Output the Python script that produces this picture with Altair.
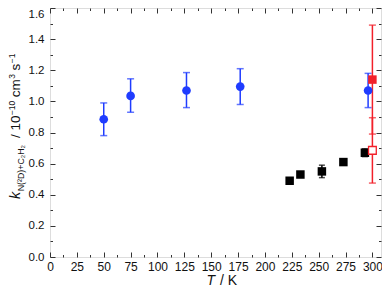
import altair as alt
import pandas as pd

# ---- data ----
blue_T = [50, 75, 127, 177, 296]
blue_k = [0.885, 1.035, 1.07, 1.095, 1.07]
blue_lo = [0.78, 0.93, 0.96, 0.98, 0.96]
blue_hi = [0.99, 1.145, 1.185, 1.21, 1.18]

black_T = [223, 233, 253, 273, 293]
black_k = [0.49, 0.53, 0.55, 0.61, 0.67]
black_lo = [0.48, 0.515, 0.51, 0.60, 0.645]
black_hi = [0.50, 0.545, 0.59, 0.62, 0.695]

red_T = [300, 300]
red_k = [1.14, 0.685]
red_lo = [0.79, 0.475]
red_hi = [1.49, 0.895]
red_filled = [True, False]

x_ticks = [i * 12.5 for i in range(0, 25)]
y_ticks = [round(i * 0.1, 1) for i in range(0, 17)]

BLUE = "#1f3cff"
RED = "#f2202a"
BLACK = "#000000"
FRAME = "#333333"
FONT = "Liberation Sans"

PADL = 42
W, H = 331, 249
XDOM = [0, 308]
YDOM = [0, 1.6]

blue = pd.DataFrame({"T": blue_T, "k": blue_k, "lo": blue_lo, "hi": blue_hi})
black = pd.DataFrame({"T": black_T, "k": black_k, "lo": black_lo, "hi": black_hi})
red = pd.DataFrame({"T": red_T, "k": red_k, "lo": red_lo, "hi": red_hi, "filled": red_filled})

xs = alt.Scale(domain=XDOM, nice=False, zero=False)
ys = alt.Scale(domain=YDOM, nice=False)

x_major = "round(datum.value*2) % 2 === 0"
y_major = "round(datum.value*10) % 2 === 0"


def xaxis(orient, labels):
    return alt.Axis(
        orient=orient, values=x_ticks, title=None, domain=False, ticks=False,
        labels=labels, labelExpr=f"{x_major} ? datum.label : ''", format="d",
        labelOverlap=False, labelFlush=False, labelFont=FONT, labelFontSize=12,
        labelColor="#111111", labelPadding=4,
        grid=True, gridColor=FRAME, gridWidth=1, gridOpacity=1,
        gridDash={"condition": {"test": x_major, "value": [5, 2000]}, "value": [2.5, 2000]},
    )


def yaxis(orient, labels):
    return alt.Axis(
        orient=orient, values=y_ticks, title=None, domain=False, ticks=False,
        labels=labels, labelExpr=f"{y_major} ? datum.label : ''", format=".1f",
        labelOverlap=False, labelFlush=False, labelFont=FONT, labelFontSize=11.5,
        labelColor="#111111", labelPadding=6,
        labelBaseline={"condition": {"test": "datum.value > 1.55", "value": "top"}, "value": "middle"},
        grid=True, gridColor=FRAME, gridWidth=1, gridOpacity=1,
        gridDash={"condition": {"test": y_major, "value": [5, 2000]}, "value": [2.5, 2000]},
    )


axes_main = alt.Chart(blue).mark_point(opacity=0).encode(
    x=alt.X("T:Q", scale=xs, axis=xaxis("bottom", True)),
    y=alt.Y("k:Q", scale=ys, axis=yaxis("left", True)),
)
axes_mirror = alt.Chart(blue).mark_point(opacity=0).encode(
    x=alt.X("T:Q", scale=xs, axis=xaxis("top", False)),
    y=alt.Y("k:Q", scale=ys, axis=yaxis("right", False)),
)


def errbars(df, color, cap):
    rule = alt.Chart(df).mark_rule(color=color, strokeWidth=1.5).encode(
        x=alt.X("T:Q", scale=xs, axis=None),
        y=alt.Y("lo:Q", scale=ys, axis=None),
        y2="hi:Q",
    )
    lo = alt.Chart(df).mark_tick(color=color, orient="horizontal", size=cap, thickness=1.5).encode(
        x=alt.X("T:Q", scale=xs, axis=None),
        y=alt.Y("lo:Q", scale=ys, axis=None),
    )
    hi = alt.Chart(df).mark_tick(color=color, orient="horizontal", size=cap, thickness=1.5).encode(
        x=alt.X("T:Q", scale=xs, axis=None),
        y=alt.Y("hi:Q", scale=ys, axis=None),
    )
    return [rule, lo, hi]


blue_pts = alt.Chart(blue).mark_point(shape="circle", filled=True, color=BLUE, size=75, opacity=1).encode(
    x=alt.X("T:Q", scale=xs, axis=None), y=alt.Y("k:Q", scale=ys, axis=None))
black_pts = alt.Chart(black).mark_point(shape="square", filled=True, color=BLACK, size=72, opacity=1).encode(
    x=alt.X("T:Q", scale=xs, axis=None), y=alt.Y("k:Q", scale=ys, axis=None))
red_fill = alt.Chart(red).transform_filter("datum.filled").mark_point(
    shape="square", filled=True, color=RED, size=72, opacity=1).encode(
    x=alt.X("T:Q", scale=xs, axis=None), y=alt.Y("k:Q", scale=ys, axis=None))
red_open = alt.Chart(red).transform_filter("!datum.filled").mark_point(
    shape="square", filled=True, fill="white", stroke=RED, strokeWidth=1.3, size=60, opacity=1).encode(
    x=alt.X("T:Q", scale=xs, axis=None), y=alt.Y("k:Q", scale=ys, axis=None))

# ---- axis titles built from text pieces ----
NB = "\u00a0"
EM = {'k': 0.5, 'N': 0.722, '(': 0.333, ')': 0.333, 'D': 0.722, '+': 0.584, 'C': 0.722,
      'H': 0.722, '²': 0.333, '₂': 0.556, '/': 0.278, NB: 0.278, '1': 0.556, '0': 0.556,
      'c': 0.5, 'm': 0.833, 's': 0.5, '−': 0.584, '3': 0.556}

# (text, font size, kind, italic, gap before in px)
ytitle_pieces = [
    ("k", 14.5, "main", True, 0),
    ("N(²D)+C₂H₂", 8.8, "sub", False, 0.5),
    ("/" + NB + "10", 13.5, "main", False, 4),
    ("−10", 8.5, "sup", False, 0.5),
    ("cm", 13.5, "main", False, 3.5),
    ("3", 8.5, "sup", False, 0.5),
    ("s", 13.5, "main", False, 3.5),
    ("−1", 8.5, "sup", False, 0.5),
]
base_x = {"main": -30, "sub": -26, "sup": -35.2}


def text_layer(txt, x, y, size, angle=0, italic=False, align="left"):
    return alt.Chart(alt.Data(values=[{}])).mark_text(
        text=txt, font=FONT, fontSize=size, angle=angle, align=align,
        baseline="alphabetic", fontStyle="italic" if italic else "normal", color="#111111",
    ).encode(x=alt.value(x), y=alt.value(y))


title_layers = []
ypos = 191.0
for txt, size, kind, italic, gap in ytitle_pieces:
    ypos -= gap
    title_layers.append(text_layer(txt, base_x[kind], ypos, size, angle=270, italic=italic))
    ypos -= sum(EM.get(c, 0.556) for c in txt) * size

title_layers.append(text_layer("T", 165, 277, 14, italic=True, align="right"))
title_layers.append(text_layer("/" + NB + "K", 170, 277, 14, align="left"))

layers = [axes_main, axes_mirror]
layers += errbars(blue, BLUE, 7)
layers += errbars(black, BLACK, 6)
layers += errbars(red, RED, 7)
layers += [blue_pts, black_pts, red_fill, red_open]
layers += title_layers

chart = alt.layer(*layers).resolve_axis(x="independent", y="independent").properties(
    width=W, height=H,
    autosize=alt.AutoSizeParams(type="none"),
    padding={"left": PADL, "top": 0, "right": 1, "bottom": 31},
).configure_view(stroke=FRAME, strokeWidth=1).configure(background="white")

chart.save("out.html", embed_options={"renderer": "svg", "actions": False})
